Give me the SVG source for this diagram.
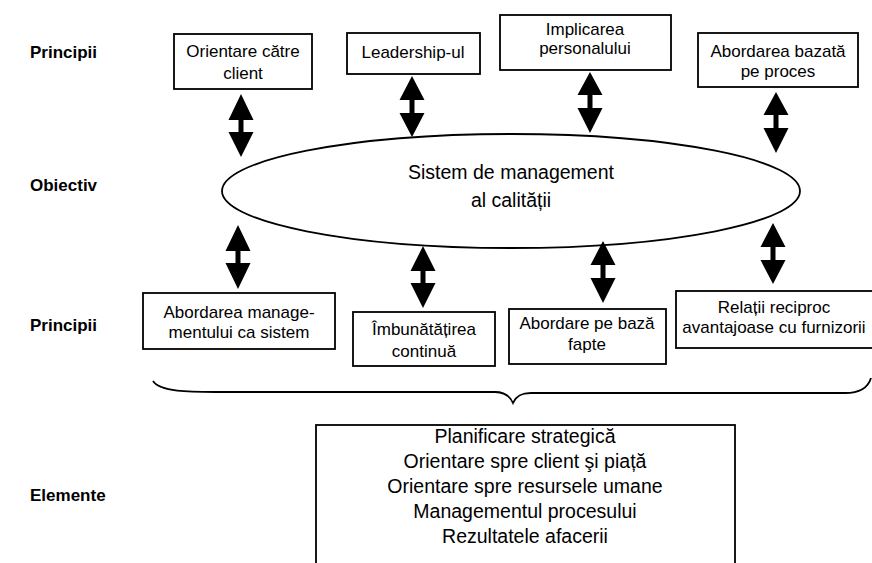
<svg xmlns="http://www.w3.org/2000/svg" width="872" height="563" viewBox="0 0 872 563">
<style>
.box{fill:#fff;stroke:#000;stroke-width:1.8}
.t{font-family:"Liberation Sans",Arial,sans-serif;font-size:17px;fill:#000;text-anchor:middle}
.big{font-size:19.5px}
.lbl{font-family:"Liberation Sans",Arial,sans-serif;font-size:17px;font-weight:bold;fill:#000}
.arr{fill:#000;stroke:none}
</style>
<rect width="872" height="563" fill="#fff"/>
<g id="labels">
<text class="lbl" x="30" y="58">Principii</text>
<text class="lbl" x="30" y="191">Obiectiv</text>
<text class="lbl" x="30" y="331">Principii</text>
<text class="lbl" x="30" y="501">Elemente</text>
</g>
<g id="n1"><rect class="box" x="174" y="34" width="138" height="55"/><text class="t" x="243" y="57">Orientare către</text><text class="t" x="243" y="79">client</text></g>
<g id="n2"><rect class="box" x="347" y="33" width="133" height="41"/><text class="t" x="413" y="58">Leadership-ul</text></g>
<g id="n3"><rect class="box" x="500" y="15" width="171" height="55"/><text class="t" x="585" y="35">Implicarea</text><text class="t" x="585" y="54">personalului</text></g>
<g id="n4"><rect class="box" x="698" y="33" width="160" height="54"/><text class="t" x="778" y="57">Abordarea bazată</text><text class="t" x="778" y="77">pe proces</text></g>
<g id="n5"><ellipse class="box" cx="511" cy="191" rx="289" ry="57"/><text class="t big" x="511" y="179">Sistem de management</text><text class="t big" x="511" y="207">al calității</text></g>
<g id="n6"><rect class="box" x="143" y="293" width="192" height="56"/><text class="t" x="239" y="318">Abordarea manage-</text><text class="t" x="239" y="338">mentului ca sistem</text></g>
<g id="n7"><rect class="box" x="353" y="312" width="142" height="54"/><text class="t" x="424" y="335">Îmbunătățirea</text><text class="t" x="424" y="357">continuă</text></g>
<g id="n8"><rect class="box" x="509" y="309" width="157" height="55"/><text class="t" x="587" y="329">Abordare pe bază</text><text class="t" x="587" y="350">fapte</text></g>
<g id="n9"><rect class="box" x="676" y="291" width="200" height="57"/><text class="t" x="774" y="313">Relații reciproc</text><text class="t" x="774" y="333">avantajoase cu furnizorii</text></g>
<g id="n10"><rect class="box" x="316" y="425" width="419" height="150"/>
<text class="t big" x="525" y="443">Planificare strategică</text>
<text class="t big" x="525" y="468">Orientare spre client şi piață</text>
<text class="t big" x="525" y="493">Orientare spre resursele umane</text>
<text class="t big" x="525" y="518">Managementul procesului</text>
<text class="t big" x="525" y="543">Rezultatele afacerii</text>
</g>
<g id="connectors">
<path class="arr" d="M241,94 L253.5,120 L243.5,120 L243.5,132 L253.5,132 L241,157 L228.5,132 L238.5,132 L238.5,120 L228.5,120 Z"/>
<path class="arr" d="M412,76 L424.5,100 L414.5,100 L414.5,113 L424.5,113 L412,137 L399.5,113 L409.5,113 L409.5,100 L399.5,100 Z"/>
<path class="arr" d="M590,72 L602.5,95 L592.5,95 L592.5,108 L602.5,108 L590,133 L577.5,108 L587.5,108 L587.5,95 L577.5,95 Z"/>
<path class="arr" d="M776,92 L788.5,115 L778.5,115 L778.5,128 L788.5,128 L776,153 L763.5,128 L773.5,128 L773.5,115 L763.5,115 Z"/>
<path class="arr" d="M238,225 L250.5,251 L240.5,251 L240.5,263 L250.5,263 L238,289 L225.5,263 L235.5,263 L235.5,251 L225.5,251 Z"/>
<path class="arr" d="M423,246 L435.5,271 L425.5,271 L425.5,283 L435.5,283 L423,308 L410.5,283 L420.5,283 L420.5,271 L410.5,271 Z"/>
<path class="arr" d="M603,241 L615.5,265 L605.5,265 L605.5,278 L615.5,278 L603,303 L590.5,278 L600.5,278 L600.5,265 L590.5,265 Z"/>
<path class="arr" d="M773,223 L785.5,247 L775.5,247 L775.5,260 L785.5,260 L773,284 L760.5,260 L770.5,260 L770.5,247 L760.5,247 Z"/>
<path fill="none" stroke="#000" stroke-width="1.8" d="M153,381 C160,392 190,392 215,392 L495,392 C505,392 510,396 513,403 C516,396 521,393 531,393 L845,393 C860,393 868,388 871,378"/>
</g>
</svg>
